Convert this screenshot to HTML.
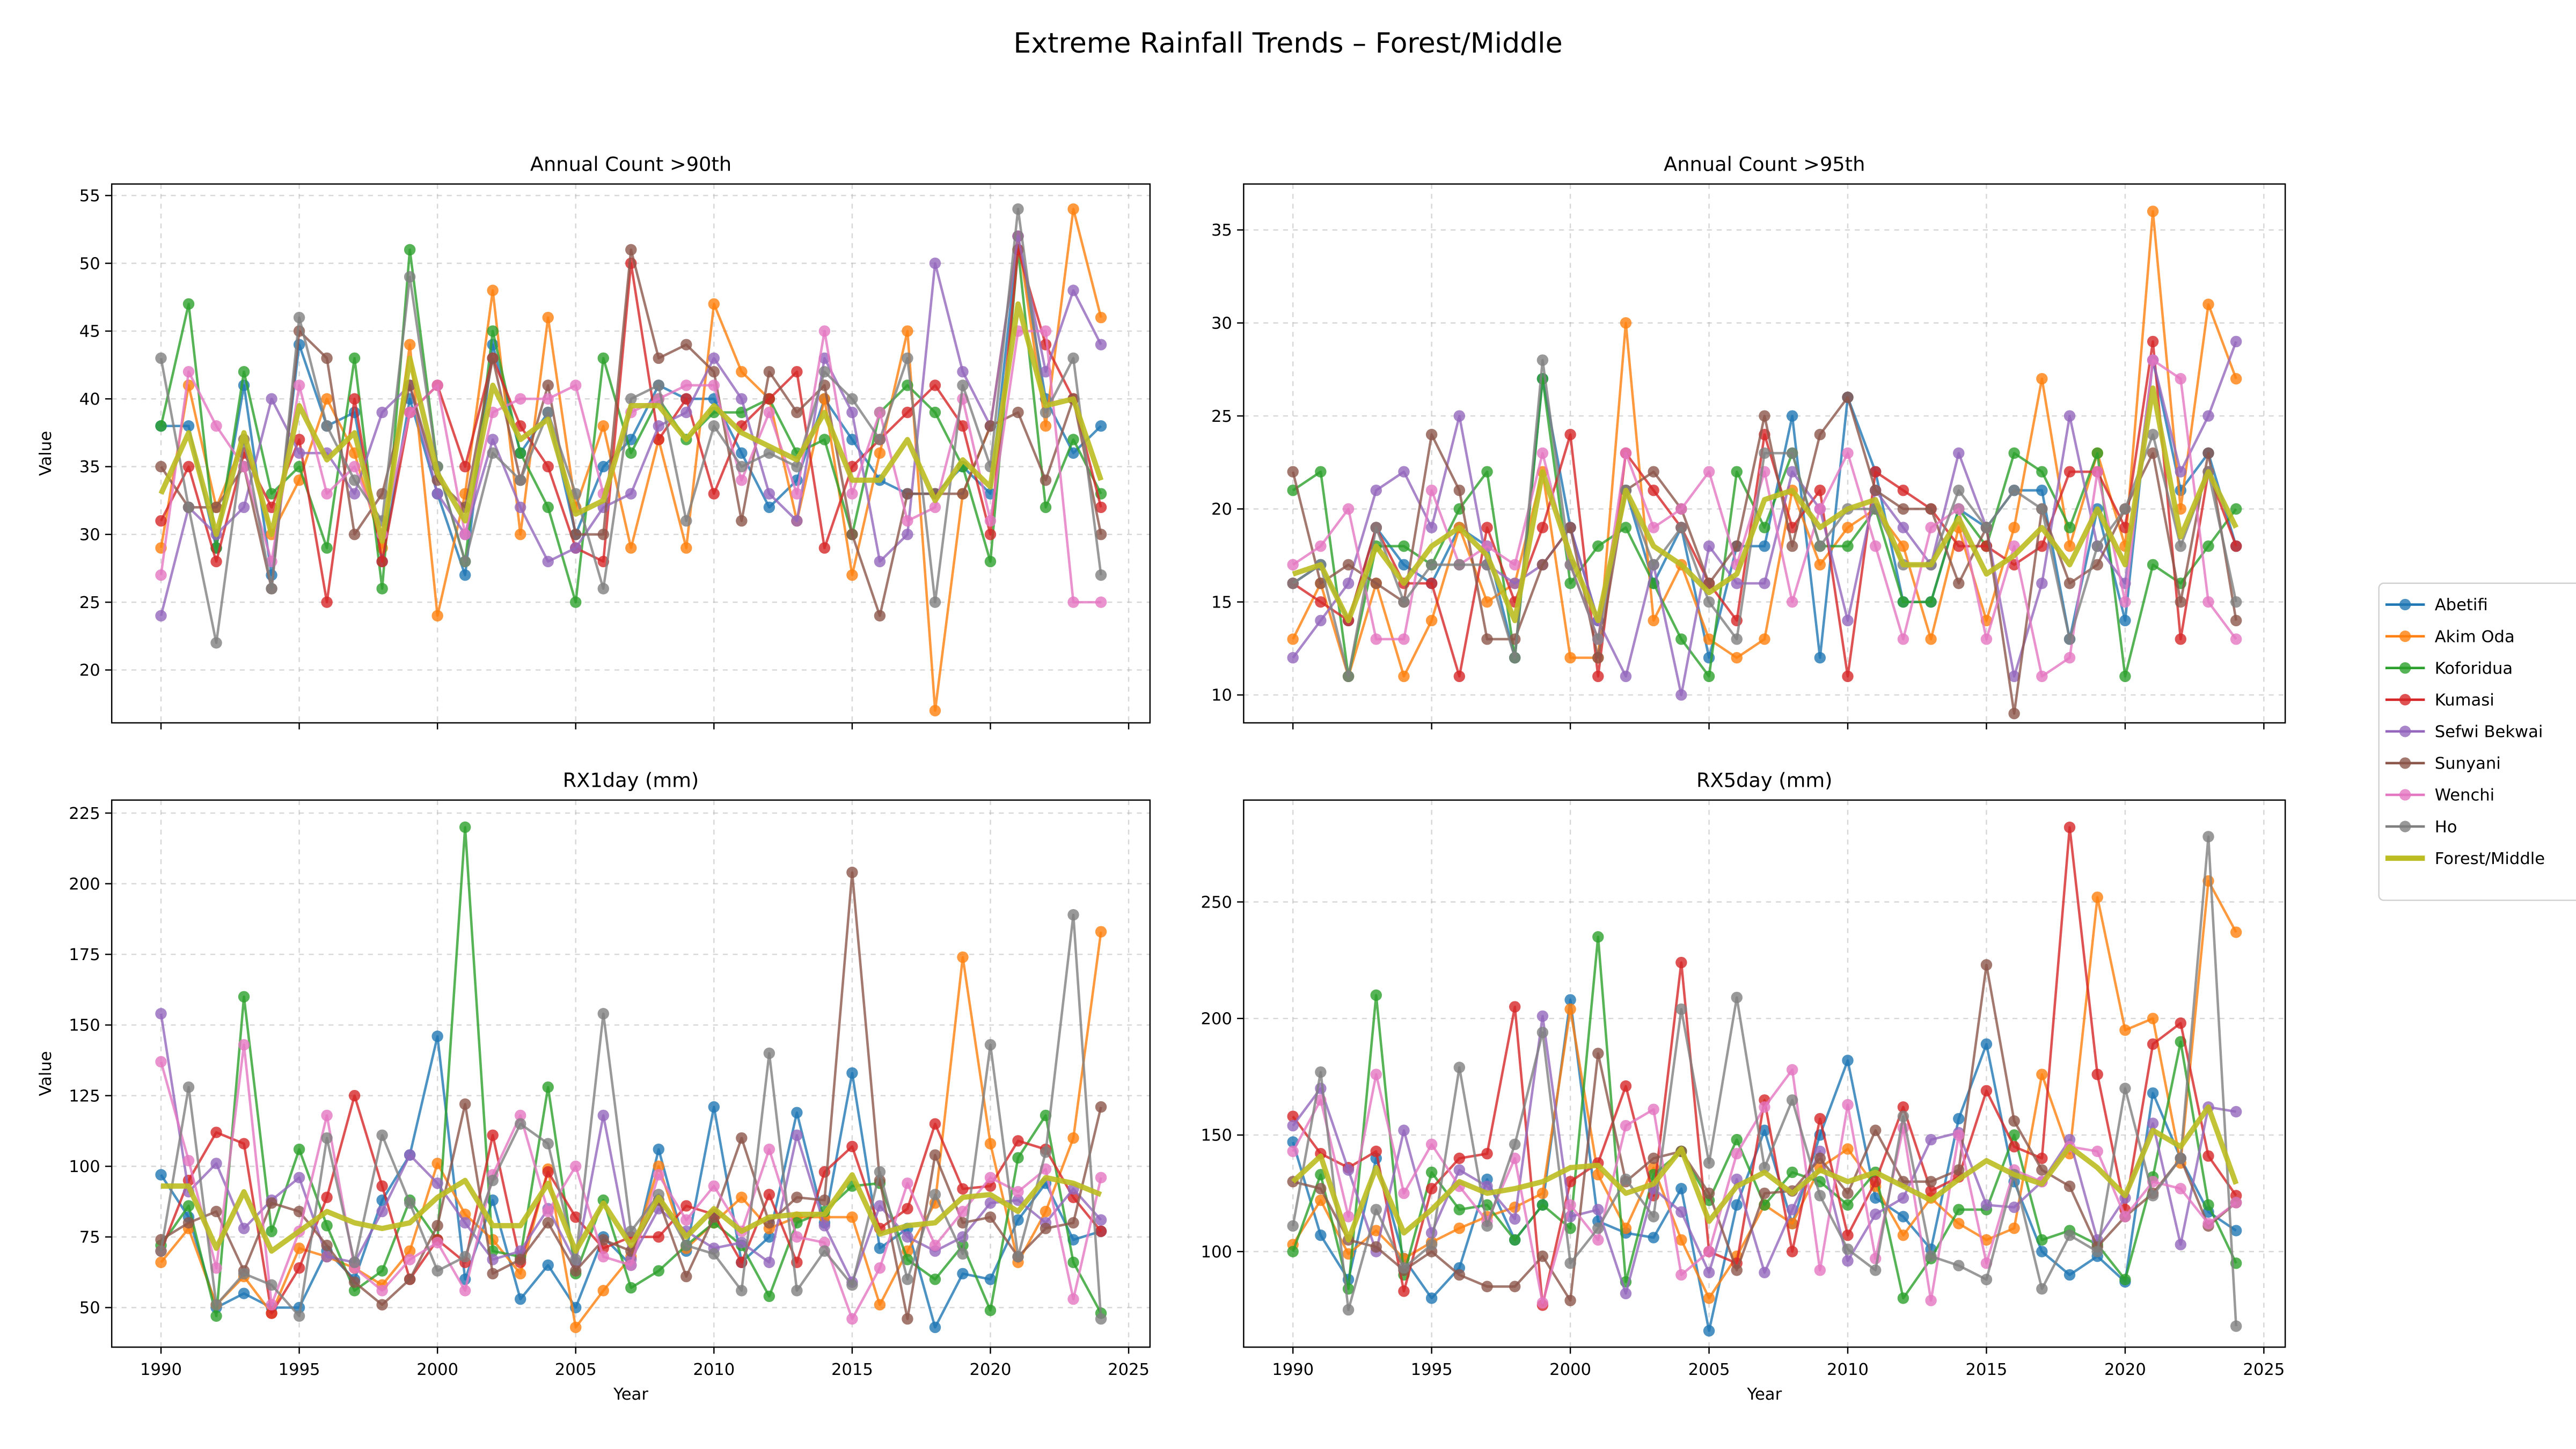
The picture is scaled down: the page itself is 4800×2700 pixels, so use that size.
<!DOCTYPE html>
<html><head><meta charset="utf-8"><style>
html,body{margin:0;padding:0;background:#fff;}
svg{display:block;font-family:"DejaVu Sans","Liberation Sans",sans-serif;}
</style></head><body>
<svg id="fig" width="4800" height="2700" viewBox="0 0 1568 882" preserveAspectRatio="none" xmlns="http://www.w3.org/2000/svg">
<rect width="1568" height="882" fill="#fff"/>
<text x="784" y="32" font-size="17" text-anchor="middle" fill="#000">Extreme Rainfall Trends – Forest/Middle</text>
<g id="plots"></g>
<g id="legend"></g>
</svg>
<script>
const years = [];
for (let y = 1990; y <= 2024; y++) years.push(y);
const seriesNames = ["Abetifi","Akim Oda","Koforidua","Kumasi","Sefwi Bekwai","Sunyani","Wenchi","Ho","Forest/Middle"];
const colors = ["#1f77b4","#ff7f0e","#2ca02c","#d62728","#9467bd","#8c564b","#e377c2","#7f7f7f","#bcbd22"];

const p90Abetifi=[38,38,29,41,27,44,38,39,28,40,33,27,44,36,39,30,35,37,41,40,40,36,32,34,40,37,34,33,33,35,33,52,40,36,38];
const p90AkimOda=[29,41,32,37,30,34,40,36,29,44,24,33,48,30,46,32,38,29,37,29,47,42,40,31,40,27,36,45,17,33,38,52,38,54,46];
const p90Koforidua=[38,47,29,42,33,35,29,43,26,51,35,28,45,36,32,25,43,36,40,37,39,39,40,36,37,30,39,41,39,35,28,51,32,37,33];
const p90Kumasi=[31,35,28,36,32,37,25,40,28,39,41,35,43,38,35,29,28,50,37,40,33,38,40,42,29,35,37,39,41,38,30,51,44,40,32];
const p90Sefwi=[24,32,30,32,40,36,36,33,39,41,33,30,37,32,28,29,32,33,38,39,43,40,33,31,43,39,28,30,50,42,38,52,42,48,44];
const p90Sunyani=[35,32,32,35,26,45,43,30,33,41,34,32,43,34,41,30,30,51,43,44,42,31,42,39,41,30,24,33,33,33,38,39,34,40,30];
const p90Wenchi=[27,42,38,35,28,41,33,35,30,39,41,30,39,40,40,41,33,39,40,41,41,34,39,33,45,33,39,31,32,40,31,45,45,25,25];
const p90Ho=[43,32,22,37,26,46,38,34,31,49,35,28,36,34,39,33,26,40,41,31,38,35,36,35,42,40,37,43,25,41,35,54,39,43,27];
const p90Mean=[33,37.5,30,37.5,30,39.5,35.5,37.5,29.5,43,34.5,31,41,37,38.5,31.5,32.5,39.5,39.5,37,39.5,37.5,36.5,35.5,39,34,34,37,32.5,35.5,33.5,47,39.5,40,34];

const p95Abetifi=[16,17,14,19,17,16,19,18,12,27,19,14,21,16,19,12,18,18,25,12,26,22,15,15,20,19,21,21,13,20,14,28,21,23,18];
const p95AkimOda=[13,16,11,16,11,14,19,15,16,22,12,12,30,14,17,13,12,13,21,17,19,20,18,13,19,14,19,27,18,23,18,36,20,31,27];
const p95Koforidua=[21,22,11,18,18,17,20,22,12,27,16,18,19,16,13,11,22,19,23,18,18,20,15,15,20,18,23,22,19,23,11,17,16,18,20];
const p95Kumasi=[16,15,14,19,16,16,11,19,15,19,24,11,23,21,19,16,14,24,19,21,11,22,21,20,18,18,17,18,22,22,19,29,13,22,18];
const p95Sefwi=[12,14,16,21,22,19,25,17,16,17,19,14,11,17,10,18,16,16,22,20,14,21,19,17,23,19,11,16,25,18,16,28,22,25,29];
const p95Sunyani=[22,16,17,16,15,24,21,13,13,17,19,12,21,22,20,16,18,25,18,24,26,21,20,20,16,19,9,20,16,17,20,23,15,23,14];
const p95Wenchi=[17,18,20,13,13,21,17,18,17,23,17,13,23,19,20,22,17,22,15,20,23,18,13,19,20,13,18,11,12,22,15,28,27,15,13];
const p95Ho=[16,17,11,19,15,17,17,17,12,28,17,13,21,17,19,15,13,23,23,18,20,20,17,17,21,19,21,20,13,18,20,24,18,22,15];
const p95Mean=[16.5,17,14,18,16,18,19,17.5,14,22,17.5,14,21,18,17,15.5,16.5,20.5,21,19,20,20.5,17,17,19.5,16.5,17.5,19,17,20,17,26.5,18.5,22,19];

const rx1Abetifi=[97,82,50,55,50,50,70,60,88,104,146,60,88,53,65,50,75,65,106,70,121,66,75,119,80,133,71,78,43,62,60,81,94,74,77];
const rx1AkimOda=[66,78,51,61,48,71,68,64,58,70,101,83,74,62,99,43,56,68,100,71,80,89,78,82,82,82,51,70,87,174,108,66,84,110,183];
const rx1Koforidua=[72,86,47,160,77,106,79,56,63,88,74,220,70,68,128,62,88,57,63,72,80,72,54,80,84,93,94,67,60,72,49,103,118,66,48];
const rx1Kumasi=[70,95,112,108,48,64,89,125,93,60,74,66,111,66,98,82,71,75,75,86,83,66,90,66,98,107,78,85,115,92,93,109,106,89,77];
const rx1Sefwi=[154,91,101,78,88,96,68,66,84,104,94,80,67,70,85,66,118,67,85,77,71,73,66,111,79,59,86,75,70,75,87,88,80,92,81];
const rx1Sunyani=[74,80,84,63,87,84,72,59,51,60,79,122,62,67,80,63,74,70,88,61,82,110,80,89,88,204,95,46,104,80,82,68,78,80,121];
const rx1Wenchi=[137,102,64,143,51,77,118,64,56,67,73,56,97,118,84,100,68,65,97,81,93,77,106,75,73,46,64,94,72,84,96,91,99,53,96];
const rx1Ho=[70,128,51,62,58,47,110,66,111,87,63,68,95,115,108,67,154,77,90,72,69,56,140,56,70,58,98,60,90,69,143,68,105,189,46];
const rx1Mean=[93,93,71,91,70,77,84,80,78,80,89,95,79,79,94,70,87,72,89,75,85,77,82,83,83,97,76,79,80,89,90,84,96,94,90];

const rx5Abetifi=[147,107,88,140,97,80,93,131,105,120,208,113,108,106,127,66,120,152,112,150,182,123,115,101,157,189,130,100,90,98,87,168,140,117,109];
const rx5AkimOda=[103,122,99,109,97,104,110,115,119,125,204,133,110,136,105,80,98,120,112,136,144,128,107,123,112,105,110,176,142,252,195,200,138,259,237];
const rx5Koforidua=[100,133,84,210,90,134,118,120,105,120,110,235,87,133,143,122,148,120,134,130,120,134,80,97,118,118,150,105,109,103,88,132,190,120,95];
const rx5Kumasi=[158,142,136,143,83,127,140,142,205,77,130,138,171,124,224,100,95,165,100,157,107,130,162,126,132,169,145,140,282,176,118,189,198,141,124];
const rx5Sefwi=[154,170,135,100,152,108,135,128,114,201,115,118,82,127,117,91,131,91,118,143,96,116,123,148,151,120,119,130,148,105,123,155,103,162,160];
const rx5Sunyani=[130,127,105,102,92,100,90,85,85,98,79,185,130,140,143,125,92,125,126,140,125,152,130,130,135,223,156,135,128,102,115,125,140,111,121];
const rx5Wenchi=[143,165,115,176,125,146,128,113,140,78,120,105,154,161,90,100,142,162,178,92,163,97,153,79,150,95,135,130,145,143,115,130,127,112,121];
const rx5Ho=[111,177,75,118,93,103,179,111,146,194,95,110,131,115,204,138,209,136,165,124,101,92,158,98,94,88,133,84,107,100,170,124,140,278,68];
const rx5Mean=[130,141,105,136,108,118,130,125,127,130,136,137,125,129,144,113,128,134,125,135,130,134,128,122,131,139,133,129,145,136,124,152,145,162,129];

const xTicks=[1990,1995,2000,2005,2010,2015,2020,2025];
const p90Ticks=[20,25,30,35,40,45,50,55];
const p95Ticks=[10,15,20,25,30,35];
const rx1Ticks=[50,75,100,125,150,175,200,225];
const rx5Ticks=[100,150,200,250];

const NS="http://www.w3.org/2000/svg";
function mk(tag,attrs,parent){const e=document.createElementNS(NS,tag);for(const k in attrs)e.setAttribute(k,attrs[k]);if(parent)parent.appendChild(e);return e;}

const panels=[
 {key:"p90",title:"Annual Count >90th",L:68,R:700,T:112,B:440,ymin:16.1,ymax:55.85,ticks:p90Ticks,data:[p90Abetifi,p90AkimOda,p90Koforidua,p90Kumasi,p90Sefwi,p90Sunyani,p90Wenchi,p90Ho,p90Mean],ylabel:true,xlabels:false},
 {key:"p95",title:"Annual Count >95th",L:757,R:1391,T:112,B:440,ymin:8.5,ymax:37.47,ticks:p95Ticks,data:[p95Abetifi,p95AkimOda,p95Koforidua,p95Kumasi,p95Sefwi,p95Sunyani,p95Wenchi,p95Ho,p95Mean],ylabel:false,xlabels:false},
 {key:"rx1",title:"RX1day (mm)",L:68,R:700,T:487,B:820,ymin:36,ymax:229.6,ticks:rx1Ticks,data:[rx1Abetifi,rx1AkimOda,rx1Koforidua,rx1Kumasi,rx1Sefwi,rx1Sunyani,rx1Wenchi,rx1Ho,rx1Mean],ylabel:true,xlabels:true},
 {key:"rx5",title:"RX5day (mm)",L:757,R:1391,T:487,B:820,ymin:59,ymax:293.7,ticks:rx5Ticks,data:[rx5Abetifi,rx5AkimOda,rx5Koforidua,rx5Kumasi,rx5Sefwi,rx5Sunyani,rx5Wenchi,rx5Ho,rx5Mean],ylabel:false,xlabels:true}
];
const root=document.getElementById('plots');
panels.forEach(p=>{
 const g=mk('g',{},root);
 
 
 const xo=p.L+30; const xs=(p.R-p.L-30-13)/35;
 const X=y=>xo+(y-1990)*xs;
 const Y=v=>p.B-(v-p.ymin)/(p.ymax-p.ymin)*(p.B-p.T);
 xTicks.forEach(t=>{
  const l=mk('line',{x1:X(t),x2:X(t),y1:p.T,y2:p.B,stroke:'#b0b0b0','stroke-width':0.8,'stroke-dasharray':'3,3',opacity:0.5},g);
  
  
  mk('line',{x1:X(t),x2:X(t),y1:p.B,y2:p.B+4,stroke:'#000','stroke-width':0.8},g);
  if(p.xlabels){const tx=mk('text',{x:X(t),y:p.B+17,'font-size':10,'text-anchor':'middle'},g);tx.textContent=t;
   
   }
 });
 p.ticks.forEach(t=>{
  const l=mk('line',{x1:p.L,x2:p.R,y1:Y(t),y2:Y(t),stroke:'#b0b0b0','stroke-width':0.8,'stroke-dasharray':'3,3',opacity:0.5},g);
  
  
  mk('line',{x1:p.L-4,x2:p.L,y1:Y(t),y2:Y(t),stroke:'#000','stroke-width':0.8},g);
  const tx=mk('text',{x:p.L-7,y:Y(t)+3.5,'font-size':10,'text-anchor':'end'},g);tx.textContent=t;
  
  
 });
 p.data.forEach((arr,si)=>{
  const pts=arr.map((v,i)=>X(years[i])+','+Y(v)).join(' ');
  if(si<8){
   const pl=mk('polyline',{points:pts,fill:'none',stroke:colors[si],'stroke-width':1.5,opacity:0.8,'stroke-linejoin':'round'},g);
   
   
   arr.forEach((v,i)=>{
    const c=mk('circle',{cx:X(years[i]),cy:Y(v),r:3.5,fill:colors[si],opacity:0.8},g);
    
    
   });
  } else {
   const pl=mk('polyline',{points:pts,fill:'none',stroke:colors[si],'stroke-width':3.2,opacity:0.9,'stroke-linejoin':'round'},g);
   
   
  }
 });
 const fr=mk('rect',{x:p.L,y:p.T,width:p.R-p.L,height:p.B-p.T,fill:'none',stroke:'#000','stroke-width':0.8},g);
 
 
 const tt=mk('text',{x:(p.L+p.R)/2,y:p.T-8,'font-size':12,'text-anchor':'middle'},g);tt.textContent=p.title;
 
 
 if(p.ylabel){const yl=mk('text',{x:0,y:0,'font-size':10,'text-anchor':'middle',transform:'translate('+(p.L-37)+','+((p.T+p.B)/2)+') rotate(-90)'},g);yl.textContent='Value';
  
  }
 if(p.xlabels){const xl=mk('text',{x:(p.L+p.R)/2,y:p.B+32,'font-size':10,'text-anchor':'middle'},g);xl.textContent='Year';
  
  }
});
const lg=document.getElementById('legend');
mk('rect',{x:1448,y:355,width:140,height:193,rx:3,fill:'#fff',stroke:'#d0d0d0','stroke-width':0.8},lg);
seriesNames.forEach((n,i)=>{
 const y=368+i*19.3;
 const e=mk('g',{},lg);
 
 
 mk('line',{x1:1452,x2:1476,y1:y,y2:y,stroke:colors[i],'stroke-width':i<8?1.5:3.2},e);
 if(i<8)mk('circle',{cx:1464,cy:y,r:3.5,fill:colors[i],opacity:0.8},e);
 const t=mk('text',{x:1482,y:y+3.5,'font-size':10},e);t.textContent=n;
});
</script>
</body></html>
